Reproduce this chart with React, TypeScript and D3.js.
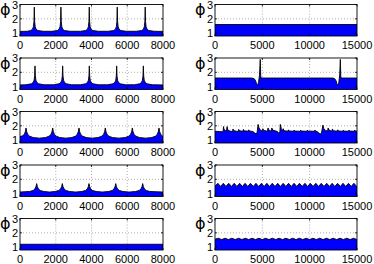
import React from "react";
import * as d3 from "d3";

type Pt = [number, number];

// Tick labels
const leftXTicks = [0, 2000, 4000, 6000, 8000];
const rightXTicks = [0, 5000, 10000, 15000];
const yTicks = [1, 2, 3];
const yLabel = "\u03D5";

// Left column series (x: 0..8000)
const L1: Pt[] = [
  [0, 1.12], [400, 1.13], [600, 1.18], [700, 1.28], [750, 1.45], [780, 1.8], [800, 2.82], [820, 1.8], [850, 1.45], [900, 1.28], [1000, 1.18], [1300, 1.13],
  [1790, 1.13], [2090, 1.18], [2190, 1.28], [2240, 1.45], [2270, 1.8], [2290, 2.82], [2310, 1.8], [2340, 1.45], [2390, 1.28], [2490, 1.18], [2790, 1.13],
  [3375, 1.13], [3675, 1.18], [3775, 1.28], [3825, 1.45], [3855, 1.8], [3875, 2.82], [3895, 1.8], [3925, 1.45], [3975, 1.28], [4075, 1.18], [4375, 1.13],
  [4940, 1.13], [5240, 1.18], [5340, 1.28], [5390, 1.45], [5420, 1.8], [5440, 2.82], [5460, 1.8], [5490, 1.45], [5540, 1.28], [5640, 1.18], [5940, 1.13],
  [6505, 1.13], [6805, 1.18], [6905, 1.28], [6955, 1.45], [6985, 1.8], [7005, 2.82], [7025, 1.8], [7055, 1.45], [7105, 1.28], [7205, 1.18], [7505, 1.13],
  [8000, 1.12],
];
const L2: Pt[] = [
  [0, 1.12], [339, 1.13], [639, 1.2], [739, 1.3], [789, 1.45], [819, 1.75], [839, 2.45], [859, 1.75], [889, 1.45], [939, 1.3], [1039, 1.2], [1339, 1.13],
  [1887, 1.13], [2187, 1.2], [2287, 1.3], [2337, 1.45], [2367, 1.75], [2387, 2.45], [2407, 1.75], [2437, 1.45], [2487, 1.3], [2587, 1.2], [2887, 1.13],
  [3378, 1.13], [3678, 1.2], [3778, 1.3], [3828, 1.45], [3858, 1.75], [3878, 2.45], [3898, 1.75], [3928, 1.45], [3978, 1.3], [4078, 1.2], [4378, 1.13],
  [4908, 1.13], [5208, 1.2], [5308, 1.3], [5358, 1.45], [5388, 1.75], [5408, 2.45], [5428, 1.75], [5458, 1.45], [5508, 1.3], [5608, 1.2], [5908, 1.13],
  [6400, 1.13], [6700, 1.2], [6800, 1.3], [6850, 1.45], [6880, 1.75], [6900, 2.45], [6920, 1.75], [6950, 1.45], [7000, 1.3], [7100, 1.2], [7400, 1.13],
  [8000, 1.12],
];
const L3: Pt[] = [
  [0, 1.24], [136, 1.3], [236, 1.4], [296, 1.58], [336, 1.85], [376, 1.58], [436, 1.4], [536, 1.28], [736, 1.18], [1082, 1.14],
  [1428, 1.18], [1628, 1.28], [1728, 1.4], [1788, 1.58], [1828, 1.85], [1868, 1.58], [1928, 1.4], [2028, 1.28], [2228, 1.18], [2564, 1.14],
  [2900, 1.18], [3100, 1.28], [3200, 1.4], [3260, 1.58], [3300, 1.85], [3340, 1.58], [3400, 1.4], [3500, 1.28], [3700, 1.18], [4036, 1.14],
  [4372, 1.18], [4572, 1.28], [4672, 1.4], [4732, 1.58], [4772, 1.85], [4812, 1.58], [4872, 1.4], [4972, 1.28], [5172, 1.18], [5528, 1.14],
  [5884, 1.18], [6084, 1.28], [6184, 1.4], [6244, 1.58], [6284, 1.85], [6324, 1.58], [6384, 1.4], [6484, 1.28], [6684, 1.18], [7030, 1.14],
  [7376, 1.18], [7576, 1.28], [7676, 1.4], [7736, 1.58], [7776, 1.85], [7816, 1.58], [7876, 1.4], [7976, 1.28], [8000, 1.27],
];
const L4: Pt[] = [
  [0, 1.11], [532, 1.15], [732, 1.22], [832, 1.32], [892, 1.48], [932, 1.7], [972, 1.48], [1032, 1.32], [1132, 1.22], [1332, 1.15], [1650, 1.11],
  [1968, 1.15], [2168, 1.22], [2268, 1.32], [2328, 1.48], [2368, 1.7], [2408, 1.48], [2468, 1.32], [2568, 1.22], [2768, 1.15], [3114, 1.11],
  [3460, 1.15], [3660, 1.22], [3760, 1.32], [3820, 1.48], [3860, 1.7], [3900, 1.48], [3960, 1.32], [4060, 1.22], [4260, 1.15], [4608, 1.11],
  [4956, 1.15], [5156, 1.22], [5256, 1.32], [5316, 1.48], [5356, 1.7], [5396, 1.48], [5456, 1.32], [5556, 1.22], [5756, 1.15], [6110, 1.11],
  [6464, 1.15], [6664, 1.22], [6764, 1.32], [6824, 1.48], [6864, 1.7], [6904, 1.48], [6964, 1.32], [7064, 1.22], [7264, 1.15], [8000, 1.11],
];
const L5: Pt[] = [[0, 1.2], [8000, 1.2]];

// Right column series (x: 0..15000)
const R1: Pt[] = [[0, 1.6], [15000, 1.6]];
const R2: Pt[] = [
  [0, 1.6], [3900, 1.6], [4150, 1.55], [4300, 1.4], [4400, 1.15], [4500, 1.12], [4600, 1.3], [4700, 1.8], [4780, 2.9], [4830, 1.7], [4900, 1.6],
  [12450, 1.6], [12650, 1.55], [12800, 1.4], [12880, 1.15], [12980, 1.12], [13080, 1.3], [13170, 1.8], [13240, 2.9], [13290, 1.7], [13350, 1.6],
  [15000, 1.6],
];
const R3: Pt[] = [
  [0, 1.62], [500, 1.6], [850, 1.58], [900, 1.95], [950, 1.75], [1100, 1.68], [1200, 1.62], [1280, 1.95], [1350, 1.72], [1500, 1.65],
  [1700, 1.62], [1850, 1.58], [1900, 1.78], [2000, 1.66], [2300, 1.62], [2450, 1.6], [2500, 1.75], [2600, 1.65], [2950, 1.62], [3000, 1.75],
  [3100, 1.65], [3500, 1.62], [3550, 1.72], [3650, 1.64], [4000, 1.6], [4200, 1.5], [4350, 1.42], [4450, 1.55], [4550, 2.1], [4650, 1.85],
  [4800, 1.7], [5000, 1.62], [5050, 1.8], [5150, 1.68], [5550, 1.62], [5600, 1.85], [5700, 1.7], [5950, 1.62], [6000, 1.85], [6100, 1.7],
  [6600, 1.6], [6700, 1.5], [6850, 1.55], [6900, 2.1], [7000, 1.8], [7150, 1.65], [7200, 1.8], [7300, 1.66], [7700, 1.62], [7750, 1.72],
  [7850, 1.64], [8300, 1.62], [8350, 1.7], [8450, 1.63], [9000, 1.62], [9050, 1.7], [9150, 1.63], [9700, 1.62], [9750, 1.7], [9850, 1.63],
  [10500, 1.62], [10550, 1.7], [10650, 1.63], [10900, 1.55], [11100, 1.42], [11250, 1.5], [11400, 2.05], [11500, 1.8], [11700, 1.66],
  [11900, 1.64], [11950, 1.85], [12050, 1.7], [12350, 1.62], [12400, 1.78], [12500, 1.66], [12900, 1.62], [12950, 1.72], [13050, 1.64],
  [13500, 1.62], [13550, 1.7], [13650, 1.63], [14100, 1.62], [14150, 1.7], [14250, 1.63], [14700, 1.62], [14750, 1.7], [14850, 1.63], [15000, 1.62],
];
const R4: Pt[] = [
  [0, 1.52], [300, 1.72], [590, 1.5], [875, 1.72], [1160, 1.5], [1450, 1.72], [1740, 1.5], [2025, 1.72], [2310, 1.5], [2600, 1.72],
  [2890, 1.5], [3175, 1.72], [3460, 1.5], [3750, 1.72], [4040, 1.5], [4325, 1.72], [4610, 1.5], [4900, 1.72], [5190, 1.5], [5475, 1.72],
  [5760, 1.5], [6050, 1.72], [6340, 1.5], [6625, 1.72], [6910, 1.5], [7200, 1.72], [7490, 1.5], [7775, 1.72], [8060, 1.5], [8350, 1.72],
  [8640, 1.5], [8925, 1.72], [9210, 1.5], [9500, 1.72], [9790, 1.5], [10075, 1.72], [10360, 1.5], [10650, 1.72], [10940, 1.5], [11225, 1.72],
  [11510, 1.5], [11800, 1.72], [12090, 1.5], [12375, 1.72], [12660, 1.5], [12950, 1.72], [13240, 1.5], [13525, 1.72], [13810, 1.5], [14100, 1.72],
  [14390, 1.5], [14675, 1.72], [14960, 1.5], [15000, 1.52],
];
const R5: Pt[] = [
  [0, 1.55], [350, 1.62], [707, 1.53], [1064, 1.62], [1421, 1.53], [1778, 1.62], [2135, 1.53], [2492, 1.62], [2849, 1.53], [3206, 1.62],
  [3563, 1.53], [3920, 1.62], [4277, 1.53], [4634, 1.62], [4991, 1.53], [5348, 1.62], [5705, 1.53], [6062, 1.62], [6419, 1.53], [6776, 1.62],
  [7133, 1.53], [7490, 1.62], [7847, 1.53], [8204, 1.62], [8561, 1.53], [8918, 1.62], [9275, 1.53], [9632, 1.62], [9989, 1.53], [10346, 1.62],
  [10703, 1.53], [11060, 1.62], [11417, 1.53], [11774, 1.62], [12131, 1.53], [12488, 1.62], [12845, 1.53], [13202, 1.62], [13559, 1.53], [13916, 1.62],
  [14273, 1.53], [14630, 1.62], [15000, 1.53],
];

const leftSeries = [L1, L2, L3, L4, L5];
const rightSeries = [R1, R2, R3, R4, R5];

const W = 374;
const H = 264;
const cols = [
  { x0: 20, x1: 163, xmax: 8000, ticks: leftXTicks, series: leftSeries },
  { x0: 215, x1: 357, xmax: 15000, ticks: rightXTicks, series: rightSeries },
];
const rowTop0 = 4.5;
const rowStep = 53.5;
const rowH = 31.5;
const yMin = 0.8;
const yMax = 3;
const font = "'Liberation Sans', Arial, Helvetica, sans-serif";

function Panel({ id, data, x0, x1, top, xmax, ticks }: any) {
  const bottom = top + rowH;
  const x = d3.scaleLinear().domain([0, xmax]).range([x0, x1]);
  const y = d3.scaleLinear().domain([yMin, yMax]).range([bottom, top]);
  const area = d3.area<Pt>().x((d) => x(d[0])).y0(bottom).y1((d) => y(d[1]));
  const line = d3.line<Pt>().x((d) => x(d[0])).y((d) => y(d[1]));
  const clipId = `clip-${id}`;
  return (
    <g>
      <defs>
        <clipPath id={clipId}>
          <rect x={x0} y={top} width={x1 - x0} height={bottom - top} />
        </clipPath>
      </defs>
      <rect x={x0} y={top} width={x1 - x0} height={bottom - top} fill="#fff" />
      {ticks.slice(1, -1).map((t: number) => (
        <line key={"gx" + t} x1={x(t)} x2={x(t)} y1={top} y2={bottom} stroke="#9a9a9a" strokeWidth={0.8} strokeDasharray="1 2" />
      ))}
      {yTicks.slice(1, -1).map((t) => (
        <line key={"gy" + t} x1={x0} x2={x1} y1={y(t)} y2={y(t)} stroke="#9a9a9a" strokeWidth={0.8} strokeDasharray="1 2" />
      ))}
      <g clipPath={`url(#${clipId})`}>
        <path d={area(data) || ""} fill="#0000ff" />
        <path d={line(data) || ""} fill="none" stroke="#000" strokeWidth={0.9} strokeLinejoin="round" />
      </g>
      <rect x={x0} y={top} width={x1 - x0} height={bottom - top} fill="none" stroke="#000" strokeWidth={0.9} />
      {ticks.map((t: number) => (
        <g key={"tx" + t}>
          <line x1={x(t)} x2={x(t)} y1={bottom} y2={bottom - 2} stroke="#000" strokeWidth={0.8} />
          <line x1={x(t)} x2={x(t)} y1={top} y2={top + 2} stroke="#000" strokeWidth={0.8} />
          <text x={x(t)} y={bottom + 13} textAnchor="middle" fontSize={11} fontFamily={font} fill="#000">
            {t}
          </text>
        </g>
      ))}
      {yTicks.map((t) => (
        <g key={"ty" + t}>
          <line x1={x0} x2={x0 + 2} y1={y(t)} y2={y(t)} stroke="#000" strokeWidth={0.8} />
          <line x1={x1} x2={x1 - 2} y1={y(t)} y2={y(t)} stroke="#000" strokeWidth={0.8} />
          <text x={x0 - 2} y={y(t) + 4} textAnchor="end" fontSize={11} fontFamily={font} fill="#000">
            {t}
          </text>
        </g>
      ))}
      <text x={x0 - 20} y={top + 10.5} fontSize={16} fontFamily="'DejaVu Sans', sans-serif" fill="#000">
        {yLabel}
      </text>
    </g>
  );
}

export default function App() {
  return (
    <svg width={W} height={H} style={{ position: "absolute", left: 0, top: 0, background: "#fff" }}>
      <rect x={0} y={0} width={W} height={H} fill="#fff" />
      {cols.map((c, ci) =>
        c.series.map((s, ri) => (
          <Panel
            key={`${ci}-${ri}`}
            id={`${ci}-${ri}`}
            data={s}
            x0={c.x0}
            x1={c.x1}
            top={rowTop0 + ri * rowStep}
            xmax={c.xmax}
            ticks={c.ticks}
          />
        ))
      )}
    </svg>
  );
}
